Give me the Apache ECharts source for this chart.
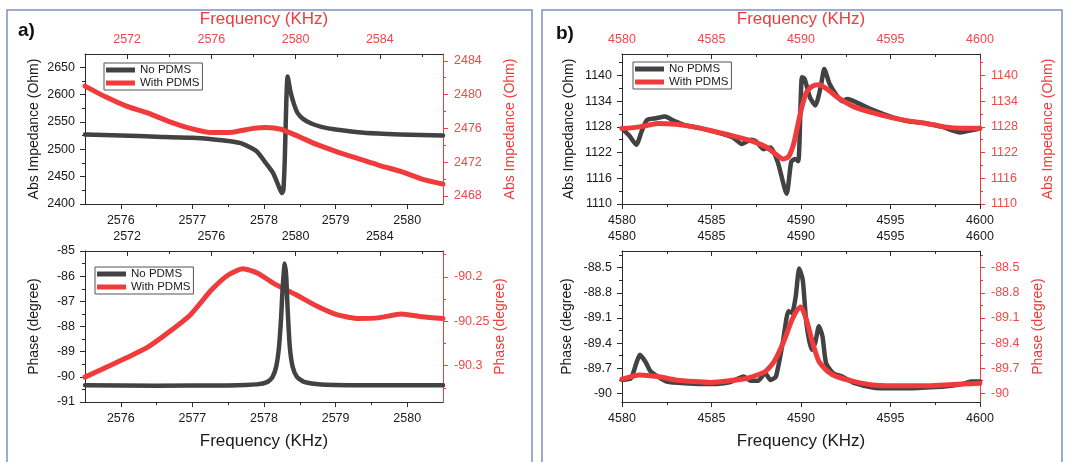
<!DOCTYPE html>
<html>
<head>
<meta charset="utf-8">
<script src="https://cdn.jsdelivr.net/npm/echarts@6/dist/echarts.min.js"></script>
<style>
html,body{margin:0;padding:0;background:#fff;}
#chart{width:1067px;height:462px;}
</style>
</head>
<body>
<div id="chart"></div>
<script>
// ---------------- DATA ----------------
// Panel a) impedance, "No PDMS" (bottom x axis, left y axis)
const aImpNoF = [2575.5, 2576, 2576.5, 2577, 2577.3, 2577.5, 2577.7, 2577.9, 2578.03, 2578.13, 2578.2, 2578.25, 2578.27, 2578.29, 2578.31, 2578.33, 2578.37, 2578.42, 2578.47, 2578.55, 2578.66, 2578.8, 2579.0, 2579.4, 2579.9, 2580.5];
const aImpNoV = [2527, 2525, 2523, 2521, 2518, 2515, 2510, 2496, 2474, 2456, 2434, 2420, 2425, 2480, 2580, 2633, 2605, 2582, 2566, 2555, 2547, 2541, 2536, 2530, 2527, 2525];
// Panel a) impedance, "With PDMS" (top x axis, right y axis)
const aImpWithF = [2570, 2571, 2572, 2573, 2574, 2575, 2576, 2577, 2578, 2578.6, 2579.3, 2580, 2581, 2582, 2583, 2584, 2585, 2586, 2587];
const aImpWithV = [2481.0, 2479.7, 2478.6, 2477.8, 2476.8, 2476.0, 2475.5, 2475.55, 2476.0, 2476.1, 2475.9, 2475.2, 2474.1, 2473.2, 2472.4, 2471.6, 2470.9, 2470.0, 2469.4];
// Panel a) phase, "No PDMS"
const aPhNoF = [2575.5, 2576.5, 2577.5, 2577.9, 2578.05, 2578.12, 2578.17, 2578.21, 2578.24, 2578.26, 2578.29, 2578.31, 2578.33, 2578.36, 2578.4, 2578.46, 2578.56, 2578.8, 2579.5, 2580.5];
const aPhNoV = [-90.33, -90.35, -90.34, -90.3, -90.2, -90.0, -89.6, -88.8, -87.6, -86.5, -85.5, -86.0, -87.3, -88.8, -89.6, -90.0, -90.2, -90.3, -90.33, -90.33];
// Panel a) phase, "With PDMS"
const aPhWithF = [2570, 2571, 2572, 2573, 2574, 2575, 2576, 2576.8, 2577.5, 2578.2, 2579, 2580, 2581, 2582, 2583, 2584, 2585, 2586, 2587];
const aPhWithV = [-90.313, -90.302, -90.291, -90.279, -90.262, -90.243, -90.215, -90.198, -90.191, -90.196, -90.208, -90.220, -90.233, -90.243, -90.247, -90.246, -90.242, -90.245, -90.247];
// Panel b) impedance
const bImpNoF = [4580, 4580.4, 4580.8, 4581.1, 4581.4, 4581.9, 4582.4, 4582.9, 4583.5, 4584.5, 4585.4, 4586.2, 4586.7, 4587.2, 4587.5, 4587.9, 4588.3, 4588.7, 4589.2, 4589.45, 4589.65, 4589.85, 4590.05, 4590.2, 4590.5, 4590.8, 4591.1, 4591.3, 4591.6, 4592.0, 4592.3, 4592.6, 4593.3, 4594.1, 4595.0, 4596, 4597, 4597.9, 4598.9, 4599.5, 4600];
const bImpNoV = [1127.6, 1126, 1123.8, 1127, 1129.6, 1130, 1130.4, 1129.4, 1128.4, 1127.6, 1126.6, 1125.5, 1124, 1125, 1124.6, 1122.8, 1123.2, 1119.8, 1112.4, 1119.8, 1120.5, 1120, 1139.6, 1139.2, 1134.9, 1133.0, 1137.3, 1141.5, 1138, 1135.3, 1134, 1134.5, 1133.3, 1131.8, 1130.4, 1129.3, 1128.8, 1128.0, 1126.7, 1127.2, 1127.6];
const bImpWithF = [4580, 4581, 4582, 4583, 4584, 4585, 4586, 4587, 4588, 4588.5, 4589, 4589.3, 4589.6, 4590, 4590.3, 4590.6, 4591, 4591.5, 4592, 4593, 4594, 4595, 4596, 4597, 4598, 4599, 4600];
const bImpWithV = [1127.6, 1128, 1128.8, 1128.6, 1128, 1127.1, 1126.1, 1125, 1123.4, 1121.9, 1120.5, 1121, 1124.2, 1131.8, 1136, 1137.4, 1137.8, 1136.7, 1135, 1132.6, 1131.3, 1130.2, 1129.4, 1128.8, 1128, 1127.7, 1127.7];
// Panel b) phase
const bPhNoF = [4580, 4580.5, 4580.8, 4581, 4581.3, 4581.6, 4582, 4582.5, 4583.5, 4585, 4586, 4586.8, 4587.2, 4587.6, 4588, 4588.3, 4588.6, 4589, 4589.3, 4589.5, 4589.7, 4589.9, 4590.1, 4590.3, 4590.6, 4590.8, 4591, 4591.2, 4591.4, 4591.8, 4592.3, 4593, 4594, 4595, 4596, 4597, 4598, 4599, 4599.5, 4600];
const bPhNoV = [-89.84, -89.82, -89.64, -89.54, -89.62, -89.74, -89.80, -89.86, -89.88, -89.89, -89.87, -89.80, -89.85, -89.85, -89.76, -89.84, -89.80, -89.37, -89.02, -89.04, -88.85, -88.51, -88.65, -89.16, -89.48, -89.39, -89.20, -89.32, -89.64, -89.76, -89.80, -89.88, -89.93, -89.94, -89.94, -89.93, -89.92, -89.89, -89.86, -89.86];
const bPhWithF = [4580, 4581, 4582, 4583, 4584, 4585, 4586, 4587, 4588, 4588.5, 4589, 4589.5, 4589.8, 4590, 4590.3, 4590.6, 4591, 4591.5, 4592, 4593, 4594, 4595, 4596, 4597, 4598, 4599, 4600];
const bPhWithV = [-89.83, -89.78, -89.80, -89.84, -89.86, -89.87, -89.85, -89.82, -89.74, -89.62, -89.40, -89.12, -89.00, -88.97, -89.12, -89.36, -89.62, -89.74, -89.80, -89.86, -89.90, -89.91, -89.91, -89.91, -89.90, -89.89, -89.88];

// Tick labels
const aXBottomTicks = [2576, 2577, 2578, 2579, 2580];
const aXTopTicks = [2572, 2576, 2580, 2584];
const aImpLeftTicks = [2400, 2450, 2500, 2550, 2600, 2650];
const aImpRightTicks = [2468, 2472, 2476, 2480, 2484];
const aPhLeftTicks = [-91, -90, -89, -88, -87, -86, -85];
const aPhRightTicks = [-90.3, -90.25, -90.2];
const bXTicks = [4580, 4585, 4590, 4595, 4600];
const bImpTicks = [1110, 1116, 1122, 1128, 1134, 1140];
const bPhTicks = [-90, -89.7, -89.4, -89.1, -88.8, -88.5];

// ---------------- STYLE / HELPERS ----------------
const RED = '#ef3b3b', RED_LBL = '#f04848', BLK = '#424242', AX = '#2a2a2a', TXT = '#1a1a1a';
const FONT = '"Liberation Sans", Arial, sans-serif';
const fmt = v => String(+(+v).toFixed(4));
const zip = (f, v) => f.map((x, i) => [x, v[i]]);
function minorOf(ticks, min, max) {
  const step = ticks[1] - ticks[0], out = [], eps = Math.abs(step) * 1e-3;
  for (let t = ticks[0] - step / 2; t <= max + eps; t += step) {
    const r = +t.toFixed(6);
    if (r > min + eps && r < max - eps) out.push(r);
  }
  return out;
}
function axisPair(dim, grid, pos, min, max, ticks, o) {
  const inside = pos === 'top';
  const main = {
    type: 'value', gridIndex: grid, position: pos, min: min, max: max,
    axisLine: {show: true, onZero: false, lineStyle: {color: o.line || AX, width: 1}},
    axisTick: {show: true, inside: inside, length: 5, customValues: ticks, lineStyle: {color: o.tick || AX, width: 1}},
    axisLabel: {show: true, customValues: ticks, formatter: fmt, color: o.label || TXT, fontSize: 12.5, fontFamily: FONT, margin: o.margin || 8},
    splitLine: {show: false}, minorTick: {show: false}, axisPointer: {show: false},
    name: o.name || '', nameLocation: 'middle', nameGap: o.nameGap || 30,
    nameTextStyle: {color: o.nameColor || TXT, fontSize: o.nameSize || 14, fontFamily: FONT}
  };
  const minor = {
    type: 'value', gridIndex: grid, position: pos, min: min, max: max,
    axisLine: {show: false, onZero: false},
    axisTick: {show: true, inside: inside, length: 3, customValues: minorOf(ticks, min, max), lineStyle: {color: o.tick || AX, width: 1}},
    axisLabel: {show: false}, splitLine: {show: false}, axisPointer: {show: false}
  };
  return [main, minor];
}

const grids = [
  {left: 85, top: 54, width: 358, height: 150},
  {left: 85, top: 251, width: 358, height: 151},
  {left: 622, top: 54, width: 358, height: 150},
  {left: 622, top: 251, width: 358, height: 151}
];

const xAxes = [].concat(
  axisPair('x', 0, 'bottom', 2575.5, 2580.5, aXBottomTicks, {margin: 10}),
  axisPair('x', 0, 'top', 2570, 2587, aXTopTicks, {label: RED_LBL, name: 'Frequency (KHz)', nameColor: RED, nameSize: 17, nameGap: 26}),
  axisPair('x', 1, 'bottom', 2575.5, 2580.5, aXBottomTicks, {margin: 10, name: 'Frequency (KHz)', nameSize: 17, nameGap: 31}),
  axisPair('x', 1, 'top', 2570, 2587, aXTopTicks, {}),
  axisPair('x', 2, 'bottom', 4580, 4600, bXTicks, {margin: 10}),
  axisPair('x', 2, 'top', 4580, 4600, bXTicks, {label: RED_LBL, name: 'Frequency (KHz)', nameColor: RED, nameSize: 17, nameGap: 26}),
  axisPair('x', 3, 'bottom', 4580, 4600, bXTicks, {margin: 10, name: 'Frequency (KHz)', nameSize: 17, nameGap: 31}),
  axisPair('x', 3, 'top', 4580, 4600, bXTicks, {})
);
const yAxes = [].concat(
  axisPair('y', 0, 'left', 2400, 2674, aImpLeftTicks, {margin: 10, name: 'Abs Impedance (Ohm)', nameGap: 44}),
  axisPair('y', 0, 'right', 2467.05, 2484.8, aImpRightTicks, {margin: 11, line: RED, tick: RED, label: RED_LBL, name: 'Abs Impedance (Ohm)', nameColor: RED, nameGap: 60}),
  axisPair('y', 1, 'left', -91, -85, aPhLeftTicks, {margin: 10, name: 'Phase (degree)', nameGap: 44}),
  axisPair('y', 1, 'right', -90.341, -90.171, aPhRightTicks, {margin: 11, line: RED, tick: RED, label: RED_LBL, name: 'Phase (degree)', nameColor: RED, nameGap: 46}),
  axisPair('y', 2, 'left', 1110, 1145, bImpTicks, {margin: 10, name: 'Abs Impedance (Ohm)', nameGap: 46}),
  axisPair('y', 2, 'right', 1110, 1145, bImpTicks, {margin: 11, line: RED, tick: RED, label: RED_LBL, name: 'Abs Impedance (Ohm)', nameColor: RED, nameGap: 61}),
  axisPair('y', 3, 'left', -90.104, -88.3, bPhTicks, {margin: 10, name: 'Phase (degree)', nameGap: 48}),
  axisPair('y', 3, 'right', -90.104, -88.3, bPhTicks, {margin: 11, line: RED, tick: RED, label: RED_LBL, name: 'Phase (degree)', nameColor: RED, nameGap: 51})
);

function lineSeries(name, g, top, data, color, width, z) {
  return {
    type: 'line', name: name, xAxisIndex: 4 * g + (top ? 2 : 0), yAxisIndex: 4 * g + (top ? 2 : 0),
    data: data, showSymbol: false, symbol: 'none', smooth: 0.2, z: z,
    lineStyle: {color: color, width: width, cap: 'round', join: 'round'},
    itemStyle: {color: color}, animation: false, silent: true
  };
}
const series = [
  lineSeries('No PDMS', 0, false, zip(aImpNoF, aImpNoV), BLK, 4.5, 2),
  lineSeries('With PDMS', 0, true, zip(aImpWithF, aImpWithV), RED, 5, 3),
  lineSeries('No PDMS', 1, false, zip(aPhNoF, aPhNoV), BLK, 4.5, 3),
  lineSeries('With PDMS', 1, true, zip(aPhWithF, aPhWithV), RED, 5, 2),
  lineSeries('No PDMS', 2, false, zip(bImpNoF, bImpNoV), BLK, 4.5, 2),
  lineSeries('With PDMS', 2, true, zip(bImpWithF, bImpWithV), RED, 5, 3),
  lineSeries('No PDMS', 3, false, zip(bPhNoF, bPhNoV), BLK, 4.5, 2),
  lineSeries('With PDMS', 3, true, zip(bPhWithF, bPhWithV), RED, 5, 3)
];

function legendAt(left, top) {
  return {
    orient: 'vertical', left: left, top: top, padding: [1, 3, 1, 2], itemGap: 1,
    itemWidth: 29, itemHeight: 5, icon: 'rect', borderColor: '#555', borderWidth: 1,
    selectedMode: false, data: ['No PDMS', 'With PDMS'],
    textStyle: {fontSize: 11.5, color: TXT, fontFamily: FONT}
  };
}

const option = {
  backgroundColor: '#fff',
  animation: false,
  grid: grids,
  xAxis: xAxes,
  yAxis: yAxes,
  legend: [legendAt(104, 63), legendAt(95, 267), legendAt(633, 62)],
  series: series,
  graphic: [
    {type: 'rect', z: -1, shape: {x: 7, y: 10, width: 525, height: 470}, style: {fill: 'none', stroke: '#7d90c2', lineWidth: 1.5}},
    {type: 'rect', z: -1, shape: {x: 542, y: 10, width: 520, height: 470}, style: {fill: 'none', stroke: '#7d90c2', lineWidth: 1.5}},
    {type: 'text', style: {text: 'a)', x: 18, y: 21, font: 'bold 19px "Liberation Sans", Arial', fill: '#111', verticalAlign: 'top'}},
    {type: 'text', style: {text: 'b)', x: 556, y: 24, font: 'bold 19px "Liberation Sans", Arial', fill: '#111', verticalAlign: 'top'}}
  ]
};

const chart = echarts.init(document.getElementById('chart'), null, {renderer: 'canvas'});
chart.setOption(option);
</script>
</body>
</html>
